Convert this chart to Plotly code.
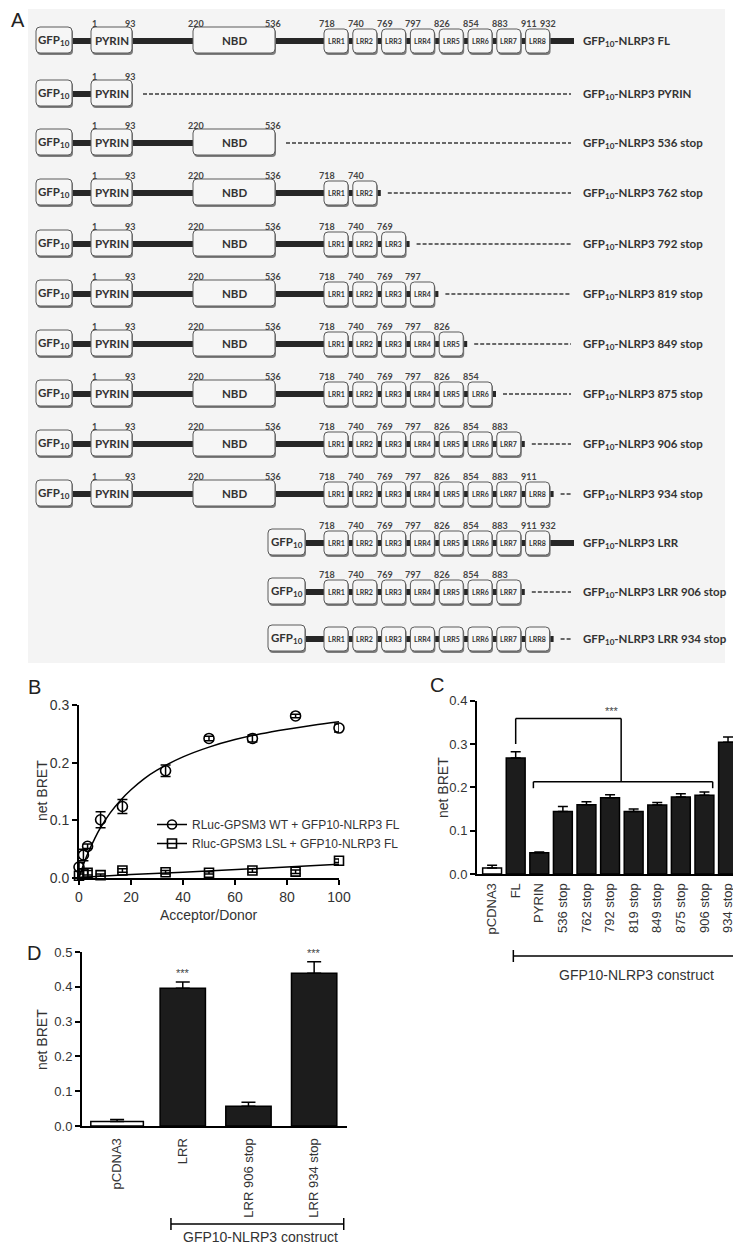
import plotly.graph_objects as go

# the page body keeps its default 8px margin, so the figure is drawn 8px smaller
# and every pixel position below is given in page coordinates
OFF = 8
PAGE_W, PAGE_H = 741, 1247
W, H = PAGE_W - OFF, PAGE_H - OFF

# ---------------- panel A: construct map ----------------
construct_names = ["FL", "PYRIN", "536 stop", "762 stop", "792 stop", "819 stop", "849 stop",
                   "875 stop", "906 stop", "934 stop", "LRR", "LRR 906 stop", "LRR 934 stop"]
domain_names = ["PYRIN", "NBD", "LRR1", "LRR2", "LRR3", "LRR4", "LRR5", "LRR6", "LRR7", "LRR8"]
domain_start_res = [1, 220, 718, 740, 769, 797, 826, 854, 883, 911]
domain_end_res = [93, 536, None, None, None, None, None, None, None, 932]
first_domain = [0, 0, 0, 0, 0, 0, 0, 0, 0, 0, 2, 2, 2]
last_domain = [9, 0, 1, 3, 4, 5, 6, 7, 8, 9, 9, 8, 9]
tail_kind = ["line", "dash", "dash", "dash", "dash", "dash", "dash", "dash", "dash", "dash",
             "line", "dash", "dash"]
show_numbers = [True] * 12 + [False]

# ---------------- panel B: saturation BRET ----------------
wt_x = [0, 1.7, 3.3, 8.3, 16.7, 33.3, 50, 66.7, 83.3, 100]
wt_y = [0.019, 0.040, 0.055, 0.101, 0.124, 0.186, 0.242, 0.242, 0.281, 0.260]
wt_err = [0.008, 0.010, 0.004, 0.014, 0.012, 0.010, 0.004, 0.006, 0.003, 0.007]
lsl_x = [0, 1.7, 3.3, 8.3, 16.7, 33.3, 50, 66.7, 83.3, 100]
lsl_y = [0.004, 0.008, 0.009, 0.005, 0.013, 0.010, 0.009, 0.013, 0.011, 0.030]
lsl_err = [0.003, 0.008, 0.004, 0.002, 0.003, 0.003, 0.002, 0.003, 0.003, 0.003]
wt_fit_x = [0, 1, 2, 4, 6, 8, 12, 16, 20, 25, 30, 40, 50, 60, 70, 80, 90, 100]
wt_fit_y = [0.0, 0.014, 0.027, 0.049, 0.068, 0.085, 0.113, 0.135, 0.153, 0.172, 0.187,
            0.210, 0.227, 0.240, 0.250, 0.258, 0.265, 0.271]
lsl_fit_x = [0, 10, 20, 40, 60, 80, 100]
lsl_fit_y = [0.001, 0.004, 0.006, 0.010, 0.014, 0.019, 0.024]
wt_name = "RLuc-GPSM3 WT + GFP10-NLRP3 FL"
lsl_name = "Rluc-GPSM3 LSL + GFP10-NLRP3 FL"

# ---------------- panel C ----------------
c_labels = ["pCDNA3", "FL", "PYRIN", "536 stop", "762 stop", "792 stop", "819 stop",
            "849 stop", "875 stop", "906 stop", "934 stop"]
c_values = [0.014, 0.268, 0.049, 0.144, 0.160, 0.176, 0.144, 0.159, 0.178, 0.182, 0.304]
c_err = [0.006, 0.014, 0.002, 0.012, 0.007, 0.007, 0.006, 0.006, 0.007, 0.007, 0.012]

# ---------------- panel D ----------------
d_labels = ["pCDNA3", "LRR", "LRR 906 stop", "LRR 934 stop"]
d_values = [0.013, 0.396, 0.057, 0.439]
d_err = [0.006, 0.018, 0.011, 0.033]

TXT = "#333333"
AFONT = "Lato"
SANS = "Liberation Sans, Arial"


def py(p):
    return 1 - (p - OFF) / H


def px(p):
    return (p - OFF) / W


def rbox(x0, x1, yc, h, r):
    y0, y1 = yc - h / 2, yc + h / 2
    return (f"M{x0 + r},{y0} L{x1 - r},{y0} Q{x1},{y0} {x1},{y0 + r} L{x1},{y1 - r} "
            f"Q{x1},{y1} {x1 - r},{y1} L{x0 + r},{y1} Q{x0},{y1} {x0},{y1 - r} "
            f"L{x0},{y0 + r} Q{x0},{y0} {x0 + r},{y0} Z")


def note(x, y, text, xref, yref, font, **kw):
    d = dict(x=x, y=y, xref=xref, yref=yref, text=text, showarrow=False, font=font,
             xanchor="center", yanchor="middle")
    d.update(kw)
    return d


fig = go.Figure()
shapes = []
annotations = []

# ---- panel A drawing (axis x/y runs in page pixels) ----
row_y = [40, 93, 142, 192, 243, 293, 343, 393, 443, 493, 542, 591, 638]
dom_x = [(91, 132), (193, 275)] + [(324 + 28.8 * k, 348 + 28.8 * k) for k in range(8)]
gfp_full = (36, 72)
gfp_lrr = (268, 305)

shapes.append(dict(type="rect", xref="x", yref="y", x0=28, x1=725, y0=9, y1=663,
                   fillcolor="#f4f4f4", line_width=0, layer="below"))


def add_box(x0, x1, yc, h, label, size):
    shapes.append(dict(type="path", xref="x", yref="y", path=rbox(x0 + 1, x1 + 1, yc + 2, h, 4),
                       fillcolor="#7d7d7d", line_width=0))
    shapes.append(dict(type="path", xref="x", yref="y", path=rbox(x0, x1, yc, h, 4),
                       fillcolor="#f6f6f6", line=dict(color="#5a5a5a", width=1)))
    annotations.append(note((x0 + x1) / 2, yc, label, "x", "y",
                            dict(family=AFONT, size=size, color=TXT)))


num_font = dict(family=AFONT, size=9, color="#444")
for i, name in enumerate(construct_names):
    yc = row_y[i]
    fd, ld = first_domain[i], last_domain[i]
    gx = gfp_full if fd == 0 else gfp_lrr
    last_right = dom_x[ld][1]
    if tail_kind[i] == "line":
        line_end = 574
    else:
        line_end = last_right + (4 if ld >= 2 else 0)
    shapes.append(dict(type="line", xref="x", yref="y", x0=gx[1] - 2, x1=line_end, y0=yc + 1,
                       y1=yc + 1, line=dict(color="#262626", width=6)))
    if tail_kind[i] == "dash":
        shapes.append(dict(type="line", xref="x", yref="y", x0=last_right + 11, x1=571,
                           y0=yc + 1, y1=yc + 1, line=dict(color="#3a3a3a", width=1.3, dash="4px,2px")))
    add_box(gx[0], gx[1], yc, 26, "<b>GFP<sub>10</sub></b>", 11.5)
    for k in range(fd, ld + 1):
        x0, x1 = dom_x[k]
        if k < 2:
            add_box(x0, x1, yc, 26, f"<b>{domain_names[k]}</b>", 11.5)
        else:
            add_box(x0, x1, yc + 1, 24, f"<b>{domain_names[k]}</b>", 7)
        if show_numbers[i]:
            annotations.append(note(x0 + 3, yc - 17, f"<b>{domain_start_res[k]}</b>", "x", "y", num_font))
            end_res = domain_end_res[k]
            if end_res is not None and (k < 2 or tail_kind[i] == "line"):
                annotations.append(note(x1 - 2, yc - 17, f"<b>{end_res}</b>", "x", "y", num_font))
    annotations.append(note(581, yc + 1, f"<b>GFP<sub>10</sub>-NLRP3 {name}</b>", "x", "y",
                            dict(family=AFONT, size=11.5, color=TXT), xanchor="left"))

# ---- panel B ----
fig.add_trace(go.Scatter(x=wt_fit_x, y=wt_fit_y, mode="lines", line=dict(color="black", width=1.5, shape="spline"),
                         xaxis="x2", yaxis="y2", showlegend=False))
fig.add_trace(go.Scatter(x=lsl_fit_x, y=lsl_fit_y, mode="lines", line=dict(color="black", width=1.5),
                         xaxis="x2", yaxis="y2", showlegend=False))
fig.add_trace(go.Scatter(x=wt_x, y=wt_y, mode="markers", xaxis="x2", yaxis="y2", showlegend=False,
                         cliponaxis=False,
                         marker=dict(symbol="circle-open", size=10, color="black", line=dict(width=1.6)),
                         error_y=dict(type="data", array=wt_err, color="black", thickness=1.5, width=5)))
fig.add_trace(go.Scatter(x=lsl_x, y=lsl_y, mode="markers", xaxis="x2", yaxis="y2", showlegend=False,
                         cliponaxis=False,
                         marker=dict(symbol="square-open", size=9, color="black", line=dict(width=1.6)),
                         error_y=dict(type="data", array=lsl_err, color="black", thickness=1.5, width=5)))
fig.add_trace(go.Scatter(x=[None], y=[None], mode="lines+markers", name=wt_name, xaxis="x2", yaxis="y2",
                         line=dict(color="black", width=1.5),
                         marker=dict(symbol="circle-open", size=9, color="black", line=dict(width=1.6))))
fig.add_trace(go.Scatter(x=[None], y=[None], mode="lines+markers", name=lsl_name, xaxis="x2", yaxis="y2",
                         line=dict(color="black", width=1.5),
                         marker=dict(symbol="square-open", size=9, color="black", line=dict(width=1.6))))

# ---- panel C ----
c_x = list(range(len(c_labels)))
fig.add_trace(go.Bar(x=c_x, y=c_values, width=0.8, xaxis="x3", yaxis="y3", showlegend=False,
                     marker=dict(color=["white"] + ["#1c1c1c"] * (len(c_x) - 1),
                                 line=dict(color="black", width=1.5)),
                     error_y=dict(type="data", array=c_err, arrayminus=[0] * len(c_x), symmetric=False,
                                  color="black", thickness=1.5, width=5)))

# ---- panel D ----
d_x = list(range(len(d_labels)))
fig.add_trace(go.Bar(x=d_x, y=d_values, width=[0.8, 0.69, 0.69, 0.69], xaxis="x4", yaxis="y4",
                     showlegend=False,
                     marker=dict(color=["white"] + ["#1c1c1c"] * (len(d_x) - 1),
                                 line=dict(color="black", width=1.5)),
                     error_y=dict(type="data", array=d_err, arrayminus=[0] * len(d_x), symmetric=False,
                                  color="black", thickness=1.5, width=7)))

# significance bracket in C and construct brackets
blk = dict(color="black", width=1.5)
shapes += [
    dict(type="line", xref="x3", yref="y3", x0=1, x1=1, y0=0.300, y1=0.359, line=blk),
    dict(type="line", xref="x3", yref="y3", x0=1, x1=5.47, y0=0.359, y1=0.359, line=blk),
    dict(type="line", xref="x3", yref="y3", x0=5.47, x1=5.47, y0=0.359, y1=0.213, line=blk),
    dict(type="line", xref="x3", yref="y3", x0=1.75, x1=9.35, y0=0.213, y1=0.213, line=blk),
    dict(type="line", xref="x3", yref="y3", x0=1.75, x1=1.75, y0=0.213, y1=0.198, line=blk),
    dict(type="line", xref="x3", yref="y3", x0=9.35, x1=9.35, y0=0.213, y1=0.198, line=blk),
    dict(type="line", xref="x3", yref="paper", x0=0.9, x1=10.3, y0=py(956), y1=py(956), line=blk),
    dict(type="line", xref="x3", yref="paper", x0=0.9, x1=0.9, y0=py(950), y1=py(962), line=blk),
    dict(type="line", xref="x3", yref="paper", x0=10.3, x1=10.3, y0=py(950), y1=py(962), line=blk),
    dict(type="line", xref="x4", yref="paper", x0=0.82, x1=3.45, y0=py(1224), y1=py(1224), line=blk),
    dict(type="line", xref="x4", yref="paper", x0=0.82, x1=0.82, y0=py(1218), y1=py(1230), line=blk),
    dict(type="line", xref="x4", yref="paper", x0=3.45, x1=3.45, y0=py(1218), y1=py(1230), line=blk),
]

star_font = dict(family=SANS, size=11, color="#444")
big_font = dict(family=SANS, size=14, color=TXT)
annotations += [
    note(5.1, 0.376, "***", "x3", "y3", star_font),
    note(1, 0.440, "***", "x4", "y4", star_font),
    note(3, 0.497, "***", "x4", "y4", star_font),
    note(6.1, py(975), "GFP10-NLRP3 construct", "x3", "paper", big_font),
    note(2.18, py(1237), "GFP10-NLRP3 construct", "x4", "paper", big_font),
]

# axis titles and panel letters
for (xp, yp, txt, ang) in [(42, 791, "net BRET", -90), (443, 787, "net BRET", -90),
                           (42, 1040, "net BRET", -90), (209, 915, "Acceptor/Donor", 0)]:
    annotations.append(note(px(xp), py(yp), txt, "paper", "paper", big_font, textangle=ang))
for (xp, yp, txt) in [(18, 20, "A"), (34, 687, "B"), (437, 685, "C"), (34, 953, "D")]:
    annotations.append(note(px(xp), py(yp), txt, "paper", "paper",
                            dict(family=SANS, size=20, color="#222")))

tick_font = dict(family=SANS, size=13, color=TXT)
yax = dict(showline=True, linecolor="black", linewidth=2, ticks="outside", ticklen=5, tickwidth=1.5,
           tickcolor="black", dtick=0.1, tickformat=".1f", showgrid=False, zeroline=False,
           tickfont=tick_font, fixedrange=True, automargin=False)
xcat = dict(showline=True, linecolor="black", linewidth=2, ticks="", showgrid=False, zeroline=False,
            tickfont=tick_font, tickangle=-90, fixedrange=True, ticklabelstandoff=2, automargin=False)

fig.update_layout(
    width=W, height=H, margin=dict(l=0, r=0, t=0, b=0, pad=0),
    paper_bgcolor="white", plot_bgcolor="rgba(0,0,0,0)",
    xaxis=dict(domain=[0, 1], range=[OFF, PAGE_W], visible=False, fixedrange=True, automargin=False),
    yaxis=dict(domain=[py(665), 1], range=[665, OFF], visible=False, fixedrange=True, automargin=False),
    xaxis2=dict(domain=[px(79), px(339)], range=[0, 100], anchor="y2", showline=True, linecolor="black",
                linewidth=2, ticks="outside", ticklen=5, tickwidth=1.5, tickcolor="black", dtick=20,
                showgrid=False, zeroline=False, tickfont=dict(family=SANS, size=14, color=TXT),
                fixedrange=True, automargin=False),
    yaxis2=dict(yax, domain=[py(878), py(705)], range=[0, 0.3], anchor="x2",
                tickfont=dict(family=SANS, size=14, color=TXT)),
    xaxis3=dict(xcat, domain=[px(477), 1], range=[-0.64, 10.55], anchor="y3",
                tickvals=c_x, ticktext=c_labels),
    yaxis3=dict(yax, domain=[py(874), py(700.7)], range=[0, 0.4], anchor="x3"),
    xaxis4=dict(xcat, domain=[px(82), px(347)], range=[-0.534, 3.5], anchor="y4",
                tickvals=d_x, ticktext=d_labels, ticklabelstandoff=5),
    yaxis4=dict(yax, domain=[py(1126), py(952)], range=[0, 0.5], anchor="x4"),
    legend=dict(x=px(152), y=py(810), xanchor="left", yanchor="top", bgcolor="rgba(0,0,0,0)",
                font=dict(family=SANS, size=12, color=TXT), tracegroupgap=0, itemwidth=30),
    shapes=shapes,
    annotations=annotations,
)

fig.write_html("out.html")
